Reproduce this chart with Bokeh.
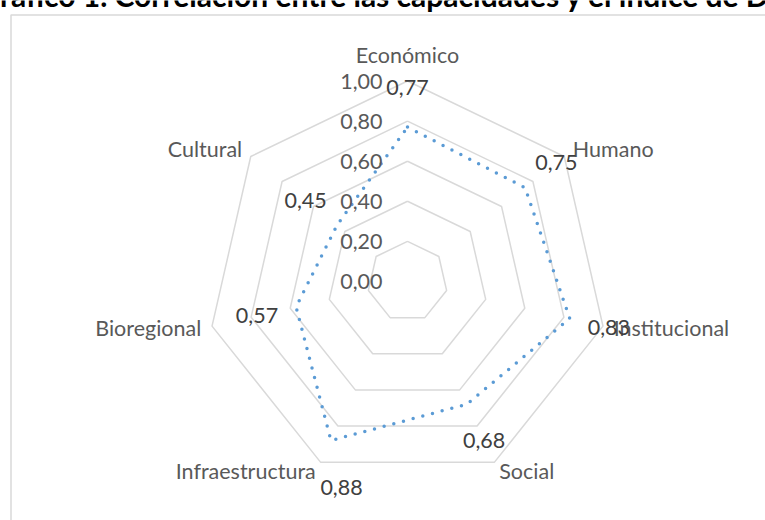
import numpy as np
from bokeh.plotting import figure
from bokeh.models import Range1d, ColumnDataSource
from bokeh.embed import file_html
from bokeh.resources import INLINE
from bokeh.core.properties import value

# ---------------- data ----------------
categories = ["Económico", "Humano", "Institucional", "Social",
              "Infraestructura", "Bioregional", "Cultural"]
values = [0.77, 0.75, 0.83, 0.68, 0.88, 0.57, 0.45]
value_labels = ["0,77", "0,75", "0,83", "0,68", "0,88", "0,57", "0,45"]
ring_values = [0.0, 0.2, 0.4, 0.6, 0.8, 1.0]
ring_labels = ["0,00", "0,20", "0,40", "0,60", "0,80", "1,00"]
title_text = "Gráfico 1. Correlación entre las capacidades y el índice de Desarrollo"

# ---------------- layout ----------------
W, H = 765, 520
CX, CY = 407, 281      # radar centre (px)
S = 200.5              # px per unit of value
FONT = "Lato"
RING_COLOR = "#D9D9D9"
SERIES_COLOR = "#5B9BD5"


def px(x):
    return (x - CX) / S


def py(y):
    return (CY - y) / S


n = len(categories)
ang = np.pi / 2 - 2 * np.pi * np.arange(n) / n
cosa, sina = np.cos(ang), np.sin(ang)

p = figure(width=W, height=H,
           x_range=Range1d(px(0), px(W)), y_range=Range1d(py(H), py(0)),
           x_axis_location=None, y_axis_location=None,
           output_backend="svg", toolbar_location=None, min_border=0)
p.grid.visible = False
p.outline_line_color = None
p.background_fill_color = "white"

# chart border
p.line([px(10.5), px(10.5), px(800)], [py(560), py(14.5), py(14.5)],
       line_color=RING_COLOR, line_width=1.5)

# title (cropped at the top like the reference)
p.text(x=[px(-22)], y=[py(-6)], text=[title_text],
       text_font=value(FONT), text_font_style="bold", text_font_size="30px",
       text_color="black", text_align="left", text_baseline="alphabetic")

# rings
rx, ry = [], []
for r in ring_values:
    if r <= 0:
        continue
    rx.append(list(r * cosa) + [r * cosa[0]])
    ry.append(list(r * sina) + [r * sina[0]])
p.multi_line(rx, ry, line_color=RING_COLOR, line_width=1.5)

# series
v = np.array(values)
sx = list(v * cosa) + [v[0] * cosa[0]]
sy = list(v * sina) + [v[0] * sina[0]]
p.line(sx, sy, line_color=SERIES_COLOR, line_width=3.5,
       line_dash="0 10", line_cap="round", line_join="round")

# tick labels
p.text(x=[0] * len(ring_values), y=ring_values, text=ring_labels,
       x_offset=-25, text_font=value(FONT), text_font_size="21.5px",
       text_color="#595959", text_align="right", text_baseline="middle")

# category labels
d = 11
for align, mask in (("left", cosa > 0.1), ("right", cosa < -0.1), ("center", np.abs(cosa) <= 0.1)):
    idx = np.where(mask)[0]
    if len(idx) == 0:
        continue
    src = ColumnDataSource(dict(
        x=cosa[idx], y=sina[idx], t=[categories[i] for i in idx],
        xo=d * cosa[idx],
        yo=np.where(np.abs(cosa[idx]) <= 0.1, -26, -d * sina[idx] - 1),
    ))
    p.text(x="x", y="y", text="t", x_offset="xo", y_offset="yo", source=src,
           text_font=value(FONT), text_font_size="21.5px", text_color="#595959",
           text_align=align, text_baseline="middle")

# data labels: placed 0.2 outside the point along each axis
nudge_x = np.zeros(n)
nudge_y = np.zeros(n)
nudge_x[4], nudge_y[4] = 28, 11
lr = v + 0.2
src = ColumnDataSource(dict(x=lr * cosa, y=lr * sina, t=value_labels,
                            xo=nudge_x, yo=nudge_y))
p.text(x="x", y="y", text="t", x_offset="xo", y_offset="yo", source=src,
       text_font=value(FONT), text_font_size="21.5px", text_color="#404040",
       text_align="center", text_baseline="middle")

open("out.html", "w").write(file_html(p, INLINE))
